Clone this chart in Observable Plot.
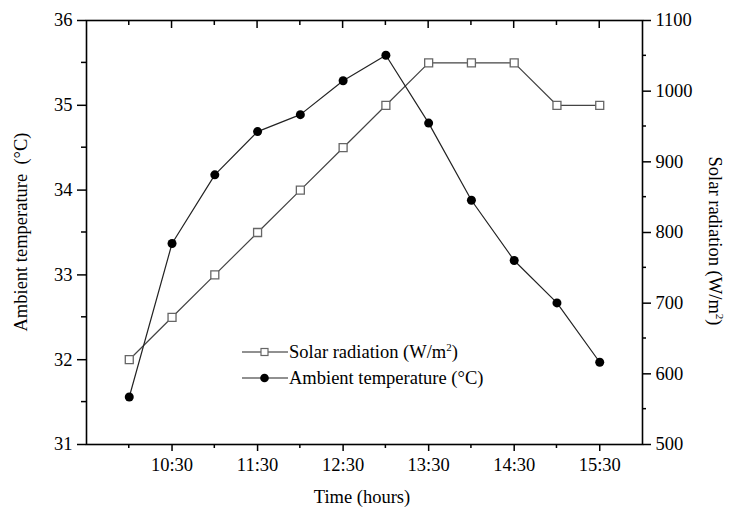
<!DOCTYPE html>
<html><head><meta charset="utf-8">
<script src="https://cdn.jsdelivr.net/npm/d3@7"></script>
<script src="https://cdn.jsdelivr.net/npm/@observablehq/plot@0.6"></script>
<style>
body{margin:0;background:#fff}
svg text{font-family:"Liberation Serif","Times New Roman",serif}
</style>
</head><body><div id="chart"></div>
<script>
const times = ["10:00","10:30","11:00","11:30","12:00","12:30","13:00","13:30","14:00","14:30","15:00","15:30"];
const solarRadiation = [620,680,740,800,860,920,980,1040,1040,1040,980,980];
const ambientTemperature = [31.56,33.37,34.18,34.69,34.89,35.29,35.59,34.79,33.88,33.17,32.67,31.97];
const xTickLabels = ["10:30","11:30","12:30","13:30","14:30","15:30"];
const xMinorLabels = ["10:00","11:00","12:00","13:00","14:00","15:00"];
const tempTicks = [31,32,33,34,35,36];
const tempMinor = [31.5,32.5,33.5,34.5,35.5];
const radTicks = [500,600,700,800,900,1000,1100];
const radMinor = [550,650,750,850,950,1050];

const toH = s => { const [h,m] = s.split(":").map(Number); return h + m/60; };
const toT = r => 31 + (r - 500) / 120;
const data = times.map((t,i) => ({h: toH(t), r: solarRadiation[i], t: ambientTemperature[i]}));
const xMaj = xTickLabels.map(toH), xMin = xMinorLabels.map(toH);

const plot = Plot.plot({
  width: 731, height: 513,
  marginLeft: 86, marginRight: 89, marginTop: 20, marginBottom: 69,
  style: {fontFamily: "Liberation Serif, serif", fontSize: "18.5px", color: "#000", background: "#fff", overflow: "visible"},
  x: {domain: [9.5, 16]},
  y: {domain: [31, 36]},
  marks: [
    Plot.axisX({anchor: "bottom", ticks: xMaj, tickSize: 7, tickPadding: 6, strokeWidth: 1.5, tickFormat: d => xTickLabels[xMaj.indexOf(d)], label: null}),
    Plot.axisY({anchor: "left", ticks: tempTicks, tickSize: 9, tickPadding: 5, strokeWidth: 1.5, tickFormat: d => String(d), label: null}),
    Plot.axisY({anchor: "right", ticks: radTicks.map(toT), tickSize: 8, tickPadding: 5, strokeWidth: 1.5, tickFormat: d => String(Math.round(500 + (d - 31) * 120)), label: null}),
    Plot.frame({stroke: "#000", strokeWidth: 1.6}),
    Plot.line(data, {x: "h", y: d => toT(d.r), stroke: "#444", strokeWidth: 1.2}),
    Plot.dot(data, {x: "h", y: d => toT(d.r), symbol: "square", r: 4.5, fill: "#fff", stroke: "#666", strokeWidth: 1.3}),
    Plot.line(data, {x: "h", y: "t", stroke: "#222", strokeWidth: 1.2}),
    Plot.dot(data, {x: "h", y: "t", r: 4.5, fill: "#000", stroke: "none"})
  ]
});
document.getElementById("chart").appendChild(plot);

const svg = d3.select(plot);
const X = v => plot.scale("x").apply(v), Y = v => plot.scale("y").apply(v);
const [x0, x1] = [X(9.5), X(16)], [yb, yt] = [Y(31), Y(36)];
const ticks = svg.append("g").attr("stroke", "#000").attr("stroke-width", 1.5);
const tick = (xa, ya, xb, yb2) => ticks.append("line").attr("x1", xa).attr("y1", ya).attr("x2", xb).attr("y2", yb2);
xMaj.forEach(v => { tick(X(v), yt, X(v), yt + 8); });
xMin.forEach(v => { tick(X(v), yb, X(v), yb + 4); tick(X(v), yt, X(v), yt + 5); });
tempMinor.forEach(v => tick(x0 - 5, Y(v), x0, Y(v)));
radMinor.forEach(v => tick(x1, Y(toT(v)), x1 + 4, Y(toT(v))));

const fs = "18.5px";
svg.append("text").attr("x", 362).attr("y", 503).attr("text-anchor", "middle")
  .style("font-size", fs).attr("fill", "#000").text("Time (hours)");
svg.append("text").attr("transform", "translate(27,232) rotate(-90)").attr("text-anchor", "middle")
  .style("font-size", fs).style("white-space", "pre").attr("fill", "#000").text("Ambient temperature  (°C)");
const rt = svg.append("text").attr("transform", "translate(709,241) rotate(90)").attr("text-anchor", "middle")
  .style("font-size", fs).attr("fill", "#000");
rt.append("tspan").text("Solar radiation (W/m");
rt.append("tspan").attr("dy", -7).style("font-size", "11px").text("2");
rt.append("tspan").attr("dy", 7).text(")");

// legend
const lg = svg.append("g");
const rows = [{y: 352, sym: "square"}, {y: 378, sym: "circle"}];
rows.forEach((row, i) => {
  lg.append("line").attr("x1", 242).attr("x2", 288).attr("y1", row.y).attr("y2", row.y).attr("stroke", "#222").attr("stroke-width", 1.2);
  if (row.sym === "square") {
    lg.append("rect").attr("x", 261).attr("y", row.y - 3.5).attr("width", 7).attr("height", 7).attr("fill", "#fff").attr("stroke", "#666").attr("stroke-width", 1.2);
  } else {
    lg.append("circle").attr("cx", 264.5).attr("cy", row.y).attr("r", 4.3).attr("fill", "#000");
  }
  const t = lg.append("text").attr("x", 289).attr("y", row.y).attr("dy", "0.35em").attr("text-anchor", "start").style("font-size", fs).attr("fill", "#000");
  if (i === 0) {
    t.append("tspan").text("Solar radiation (W/m");
    t.append("tspan").attr("dy", -7).style("font-size", "11px").text("2");
    t.append("tspan").attr("dy", 7).text(")");
  } else {
    t.text("Ambient temperature (°C)");
  }
});
</script>
</body></html>
